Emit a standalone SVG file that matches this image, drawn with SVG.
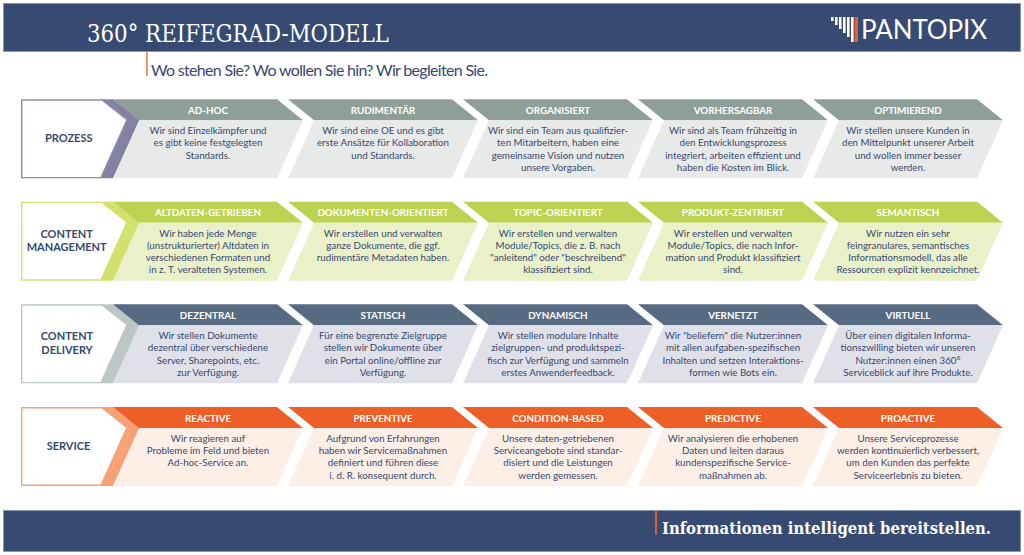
<svg xmlns="http://www.w3.org/2000/svg" width="1024" height="555" viewBox="0 0 1024 555">
<style>
text{font-family:Lato,"Noto Sans",sans-serif;text-anchor:middle;fill:#36496f}
.b{font-size:9.75px}
.h{font-size:9.8px;font-weight:700;fill:#fff}
.l{font-size:11px;font-weight:700}
.bar{fill:#364a72;stroke:#8092ad;stroke-width:.8}
.p .hd{fill:#8e9f9a}.p .bd{fill:#e8eae9}.p .band{fill:#8482a3}.p .box{stroke:#8f8dac}
.c .hd{fill:#bbd350}.c .bd{fill:#eaf1c9}.c .band{fill:#d4e06d}.c .box{stroke:#d4e06d}
.d .hd{fill:#566a82}.d .bd{fill:#e0e0e9}.d .band{fill:#bcc6c4}.d .box{stroke:#bcc6c4}
.s .hd{fill:#ee5e27}.s .bd{fill:#fdeee6}.s .band{fill:#f7a177}.s .box{stroke:#f7a177}
.box{fill:#fff;stroke-width:1.4}
.serif{font-family:"DejaVu Serif Condensed","DejaVu Serif",serif;text-anchor:start;fill:#fff}
</style>
<defs>
<path id="hd" d="M0 0H164L190 21H26Z"/>
<path id="bd" d="M26 21H190L164 79H0Z"/>
<path id="lead" d="M80 0H92L119 21L92 79H80Z"/>
<path id="tile" d="M.7 .7H81L106 20.500L80 78.300H.7Z"/>
</defs>
<rect width="1024" height="555" fill="#fff"/>
<g id="header">
<rect class="bar" x="3.5" y="3.5" width="1017" height="48"/>
<text class="serif" x="87" y="41.500" style="font-size:24.500px" textLength="302" lengthAdjust="spacingAndGlyphs">360° REIFEGRAD-MODELL</text>
<rect x="146" y="51" width="1.8" height="25" fill="#f08a5a"/>
<text x="151" y="76" style="font-size:16px;text-anchor:start" textLength="337">Wo stehen Sie? Wo wollen Sie hin? Wir begleiten Sie.</text>
</g>
<g id="logo">
<g fill="#fff">
<rect x="831" y="17" width="2.6" height="4"/>
<rect x="835" y="17" width="2.6" height="8"/>
<rect x="839" y="17" width="2.6" height="12"/>
<rect x="843" y="17" width="2.6" height="16"/>
<rect x="847" y="17" width="2.6" height="20"/>
<rect x="851" y="17" width="2.6" height="25"/>
</g>
<rect x="854.5" y="17" width="3.5" height="25" fill="#ee5e27"/>
<text x="861" y="39" style="font-size:26px;font-weight:400;text-anchor:start;fill:#fff" textLength="126">PANTOPIX</text>
</g>

<g id="row-prozess" class="p" transform="translate(0 99.3)">
<g id="prozess">
<use href="#lead" x="21" class="band"/>
<use href="#tile" x="21" class="box"/>
<text class="l" x="68.700" y="43">PROZESS</text>
</g>
<g id="ad-hoc"><use href="#hd" x="113" class="hd"/><use href="#bd" x="113" class="bd"/>
<text class="h" x="208" y="14.700">AD-HOC</text>
<text class="b" x="208" y="35">Wir sind Einzelkämpfer und</text><text class="b" x="208" y="47.200">es gibt keine festgelegten</text><text class="b" x="208" y="59.400">Standards.</text></g>
<g id="rudimentaer"><use href="#hd" x="288" class="hd"/><use href="#bd" x="288" class="bd"/>
<text class="h" x="383" y="14.700">RUDIMENTÄR</text>
<text class="b" x="383" y="35">Wir sind eine OE und es gibt</text><text class="b" x="383" y="47.200">erste Ansätze für Kollaboration</text><text class="b" x="383" y="59.400">und Standards.</text></g>
<g id="organisiert"><use href="#hd" x="463" class="hd"/><use href="#bd" x="463" class="bd"/>
<text class="h" x="558" y="14.700">ORGANISIERT</text>
<text class="b" x="558" y="35">Wir sind ein Team aus qualifizier-</text><text class="b" x="558" y="47.200">ten Mitarbeitern, haben eine</text><text class="b" x="558" y="59.400">gemeinsame Vision und nutzen</text><text class="b" x="558" y="71.600">unsere Vorgaben.</text></g>
<g id="vorhersagbar"><use href="#hd" x="638" class="hd"/><use href="#bd" x="638" class="bd"/>
<text class="h" x="733" y="14.700">VORHERSAGBAR</text>
<text class="b" x="733" y="35">Wir sind als Team frühzeitig in</text><text class="b" x="733" y="47.200">den Entwicklungsprozess</text><text class="b" x="733" y="59.400">integriert, arbeiten effizient und</text><text class="b" x="733" y="71.600">haben die Kosten im Blick.</text></g>
<g id="optimierend"><use href="#hd" x="813" class="hd"/><use href="#bd" x="813" class="bd"/>
<text class="h" x="908" y="14.700">OPTIMIEREND</text>
<text class="b" x="908" y="35">Wir stellen unsere Kunden in</text><text class="b" x="908" y="47.200">den Mittelpunkt unserer Arbeit</text><text class="b" x="908" y="59.400">und wollen immer besser</text><text class="b" x="908" y="71.600">werden.</text></g>
</g>

<g id="row-content-management" class="c" transform="translate(0 201.7)">
<g id="content-management">
<use href="#lead" x="21" class="band"/>
<use href="#tile" x="21" class="box"/>
<text class="l" x="66.700" y="36">CONTENT</text><text class="l" x="66.700" y="49.300">MANAGEMENT</text>
</g>
<g id="altdaten"><use href="#hd" x="113" class="hd"/><use href="#bd" x="113" class="bd"/>
<text class="h" x="208" y="14.700">ALTDATEN-GETRIEBEN</text>
<text class="b" x="208" y="35">Wir haben jede Menge</text><text class="b" x="208" y="47.200">(unstrukturierter) Altdaten in</text><text class="b" x="208" y="59.400">verschiedenen Formaten und</text><text class="b" x="208" y="71.600">in z. T. veralteten Systemen.</text></g>
<g id="dokumenten"><use href="#hd" x="288" class="hd"/><use href="#bd" x="288" class="bd"/>
<text class="h" x="383" y="14.700">DOKUMENTEN-ORIENTIERT</text>
<text class="b" x="383" y="35">Wir erstellen und verwalten</text><text class="b" x="383" y="47.200">ganze Dokumente, die ggf.</text><text class="b" x="383" y="59.400">rudimentäre Metadaten haben.</text></g>
<g id="topic"><use href="#hd" x="463" class="hd"/><use href="#bd" x="463" class="bd"/>
<text class="h" x="558" y="14.700">TOPIC-ORIENTIERT</text>
<text class="b" x="558" y="35">Wir erstellen und verwalten</text><text class="b" x="558" y="47.200">Module/Topics, die z. B. nach</text><text class="b" x="558" y="59.400">"anleitend" oder "beschreibend"</text><text class="b" x="558" y="71.600">klassifiziert sind.</text></g>
<g id="produkt"><use href="#hd" x="638" class="hd"/><use href="#bd" x="638" class="bd"/>
<text class="h" x="733" y="14.700">PRODUKT-ZENTRIERT</text>
<text class="b" x="733" y="35">Wir erstellen und verwalten</text><text class="b" x="733" y="47.200">Module/Topics, die nach Infor-</text><text class="b" x="733" y="59.400">mation und Produkt klassifiziert</text><text class="b" x="733" y="71.600">sind.</text></g>
<g id="semantisch"><use href="#hd" x="813" class="hd"/><use href="#bd" x="813" class="bd"/>
<text class="h" x="908" y="14.700">SEMANTISCH</text>
<text class="b" x="908" y="35">Wir nutzen ein sehr</text><text class="b" x="908" y="47.200">feingranulares, semantisches</text><text class="b" x="908" y="59.400">Informationsmodell, das alle</text><text class="b" x="908" y="71.600">Ressourcen explizit kennzeichnet.</text></g>
</g>

<g id="row-content-delivery" class="d" transform="translate(0 304.300)">
<g id="content-delivery">
<use href="#lead" x="21" class="band"/>
<use href="#tile" x="21" class="box"/>
<text class="l" x="67" y="36">CONTENT</text><text class="l" x="67" y="49.300">DELIVERY</text>
</g>
<g id="dezentral"><use href="#hd" x="113" class="hd"/><use href="#bd" x="113" class="bd"/>
<text class="h" x="208" y="14.700">DEZENTRAL</text>
<text class="b" x="208" y="35">Wir stellen Dokumente</text><text class="b" x="208" y="47.200">dezentral über verschiedene</text><text class="b" x="208" y="59.400">Server, Sharepoints, etc.</text><text class="b" x="208" y="71.600">zur Verfügung.</text></g>
<g id="statisch"><use href="#hd" x="288" class="hd"/><use href="#bd" x="288" class="bd"/>
<text class="h" x="383" y="14.700">STATISCH</text>
<text class="b" x="383" y="35">Für eine begrenzte Zielgruppe</text><text class="b" x="383" y="47.200">stellen wir Dokumente über</text><text class="b" x="383" y="59.400">ein Portal online/offline zur</text><text class="b" x="383" y="71.600">Verfügung.</text></g>
<g id="dynamisch"><use href="#hd" x="463" class="hd"/><use href="#bd" x="463" class="bd"/>
<text class="h" x="558" y="14.700">DYNAMISCH</text>
<text class="b" x="558" y="35">Wir stellen modulare Inhalte</text><text class="b" x="558" y="47.200">zielgruppen- und produktspezi-</text><text class="b" x="558" y="59.400">fisch zur Verfügung und sammeln</text><text class="b" x="558" y="71.600">erstes Anwenderfeedback.</text></g>
<g id="vernetzt"><use href="#hd" x="638" class="hd"/><use href="#bd" x="638" class="bd"/>
<text class="h" x="733" y="14.700">VERNETZT</text>
<text class="b" x="733" y="35">Wir "beliefern" die Nutzer:innen</text><text class="b" x="733" y="47.200">mit allen aufgaben-spezifischen</text><text class="b" x="733" y="59.400">Inhalten und setzen Interaktions-</text><text class="b" x="733" y="71.600">formen wie Bots ein.</text></g>
<g id="virtuell"><use href="#hd" x="813" class="hd"/><use href="#bd" x="813" class="bd"/>
<text class="h" x="908" y="14.700">VIRTUELL</text>
<text class="b" x="908" y="35">Über einen digitalen Informa-</text><text class="b" x="908" y="47.200">tionszwilling bieten wir unseren</text><text class="b" x="908" y="59.400">Nutzer:innen einen 360°</text><text class="b" x="908" y="71.600">Serviceblick auf ihre Produkte.</text></g>
</g>

<g id="row-service" class="s" transform="translate(0 407)">
<g id="service">
<use href="#lead" x="21" class="band"/>
<use href="#tile" x="21" class="box"/>
<text class="l" x="68.500" y="43">SERVICE</text>
</g>
<g id="reactive"><use href="#hd" x="113" class="hd"/><use href="#bd" x="113" class="bd"/>
<text class="h" x="208" y="14.700">REACTIVE</text>
<text class="b" x="208" y="35">Wir reagieren auf</text><text class="b" x="208" y="47.200">Probleme im Feld und bieten</text><text class="b" x="208" y="59.400">Ad-hoc-Service an.</text></g>
<g id="preventive"><use href="#hd" x="288" class="hd"/><use href="#bd" x="288" class="bd"/>
<text class="h" x="383" y="14.700">PREVENTIVE</text>
<text class="b" x="383" y="35">Aufgrund von Erfahrungen</text><text class="b" x="383" y="47.200">haben wir Servicemaßnahmen</text><text class="b" x="383" y="59.400">definiert und führen diese</text><text class="b" x="383" y="71.600">i. d. R. konsequent durch.</text></g>
<g id="condition-based"><use href="#hd" x="463" class="hd"/><use href="#bd" x="463" class="bd"/>
<text class="h" x="558" y="14.700">CONDITION-BASED</text>
<text class="b" x="558" y="35">Unsere daten-getriebenen</text><text class="b" x="558" y="47.200">Serviceangebote sind standar-</text><text class="b" x="558" y="59.400">disiert und die Leistungen</text><text class="b" x="558" y="71.600">werden gemessen.</text></g>
<g id="predictive"><use href="#hd" x="638" class="hd"/><use href="#bd" x="638" class="bd"/>
<text class="h" x="733" y="14.700">PREDICTIVE</text>
<text class="b" x="733" y="35">Wir analysieren die erhobenen</text><text class="b" x="733" y="47.200">Daten und leiten daraus</text><text class="b" x="733" y="59.400">kundenspezifische Service-</text><text class="b" x="733" y="71.600">maßnahmen ab.</text></g>
<g id="proactive"><use href="#hd" x="813" class="hd"/><use href="#bd" x="813" class="bd"/>
<text class="h" x="908" y="14.700">PROACTIVE</text>
<text class="b" x="908" y="35">Unsere Serviceprozesse</text><text class="b" x="908" y="47.200">werden kontinuierlich verbessert,</text><text class="b" x="908" y="59.400">um den Kunden das perfekte</text><text class="b" x="908" y="71.600">Serviceerlebnis zu bieten.</text></g>
</g>

<g id="footer">
<rect class="bar" x="3.5" y="510.500" width="1017" height="41"/>
<rect x="655" y="510.500" width="2" height="24" fill="#d9602f"/>
<text class="serif" x="662" y="534" style="font-weight:700;font-size:17px" textLength="329" lengthAdjust="spacingAndGlyphs">Informationen intelligent bereitstellen.</text>
</g>
</svg>
